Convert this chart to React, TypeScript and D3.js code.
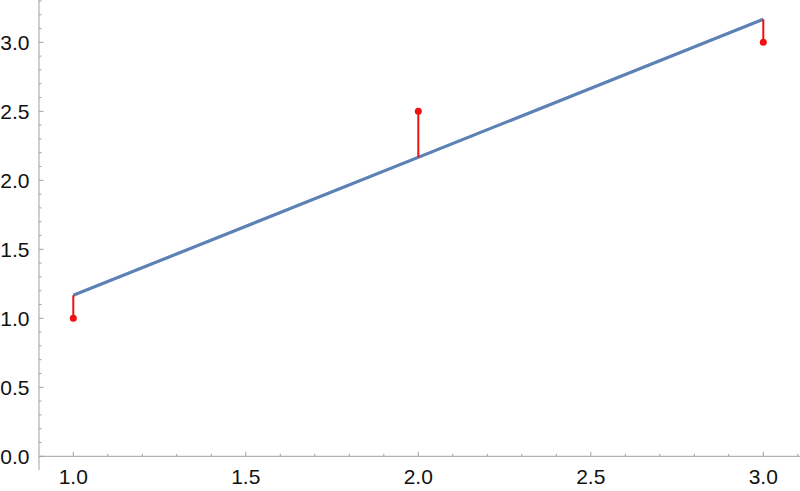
import React from "react";
import * as d3 from "d3";

const xs = [1, 2, 3];
const ys = [1, 2.5, 3];
const fitIntercept = 1 / 6;
const fitSlope = 1;
const xMajor = [1.0, 1.5, 2.0, 2.5, 3.0];
const yMajor = [0.0, 0.5, 1.0, 1.5, 2.0, 2.5, 3.0];

const W = 800;
const H = 491;

export default function App() {
  const x = d3.scaleLinear().domain([1, 3]).range([73.3, 763.3]);
  const y = d3.scaleLinear().domain([0, 3]).range([456.3, 42.3]);
  const xMin = x.invert(39);
  const xMax = x.invert(800);
  const yTop = y.invert(0);
  const yBot = y.invert(470);

  const xMinor = d3.range(Math.ceil(xMin * 10), Math.floor(xMax * 10) + 1).map((v) => v / 10);
  const yMinor = d3.range(Math.ceil(yBot * 10), Math.floor(yTop * 10) + 1).map((v) => v / 10);
  const isMajor = (v: number) => Math.abs(v * 2 - Math.round(v * 2)) < 1e-6;

  const fit = (v: number) => fitIntercept + fitSlope * v;
  const line = d3.line<number>().x((d) => x(d)).y((d) => y(fit(d)));

  const axisColor = "#a0a0a0";
  const fontStyle = { fontFamily: "Liberation Sans, Arial, sans-serif", fontSize: 21, fill: "#111" };

  return (
    <svg width={W} height={H} style={{ position: "absolute", left: 0, top: 0 }}>
      <rect width={W} height={H} fill="white" />
      {/* y axis */}
      <line x1={x(xMin)} x2={x(xMin)} y1={0} y2={470} stroke={axisColor} strokeWidth={1} />
      {yMinor.map((v) => (
        <line
          key={"ym" + v}
          x1={x(xMin)}
          x2={x(xMin) + (isMajor(v) ? 4.5 : 2.5)}
          y1={y(v)}
          y2={y(v)}
          stroke={axisColor}
          strokeWidth={1}
        />
      ))}
      {yMajor.map((v) => (
        <text key={"yl" + v} x={29.5} y={y(v)} dy="0.36em" textAnchor="end" style={fontStyle}>
          {v.toFixed(1)}
        </text>
      ))}
      {/* x axis */}
      <line x1={x(xMin)} x2={W} y1={y(0)} y2={y(0)} stroke={axisColor} strokeWidth={1} />
      {xMinor.map((v) => (
        <line
          key={"xm" + v}
          x1={x(v)}
          x2={x(v)}
          y1={y(0)}
          y2={y(0) - (isMajor(v) ? 4.5 : 2.5)}
          stroke={axisColor}
          strokeWidth={1}
        />
      ))}
      {xMajor.map((v) => (
        <text key={"xl" + v} x={x(v)} y={483.5} textAnchor="middle" style={fontStyle}>
          {v.toFixed(1)}
        </text>
      ))}
      {/* fit line */}
      <path d={line([xs[0], xs[xs.length - 1]]) || ""} stroke="#5e81b5" strokeWidth={3.2} fill="none" />
      {/* residuals */}
      {xs.map((xv, i) => (
        <g key={"r" + i}>
          <line x1={x(xv)} x2={x(xv)} y1={y(ys[i])} y2={y(fit(xv))} stroke="#ee1111" strokeWidth={2} />
          <circle cx={x(xv)} cy={y(ys[i])} r={3.5} fill="#ee1111" />
        </g>
      ))}
    </svg>
  );
}
